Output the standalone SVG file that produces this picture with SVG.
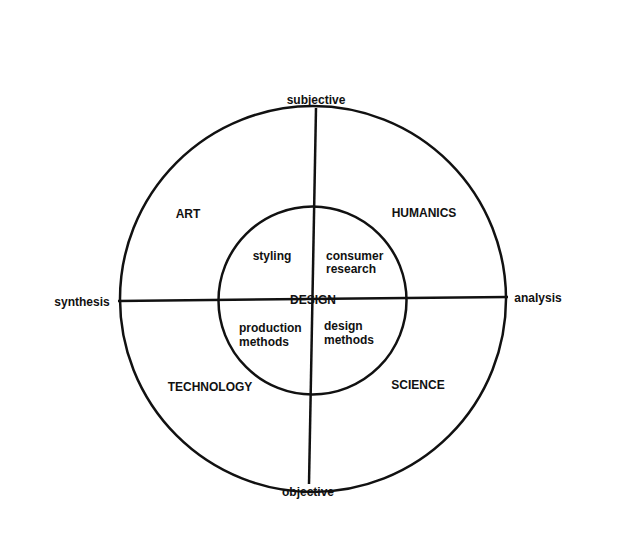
<svg xmlns="http://www.w3.org/2000/svg" width="619" height="554" viewBox="0 0 619 554">
<style>
.c{fill:none;stroke:#111;stroke-width:2.5}
.l{stroke:#111;stroke-width:2.5}
text{font-family:"Liberation Sans",Arial,sans-serif;font-weight:bold;font-size:12px;fill:#111}
</style>
<rect width="619" height="554" fill="#fff"/>
<g id="outer"><circle class="c" cx="313" cy="299" r="193"/></g>
<g id="inner"><circle class="c" cx="312.5" cy="300.5" r="94"/></g>
<g id="connectors">
<line class="l" x1="316" y1="108" x2="309" y2="484"/>
<line class="l" x1="118" y1="301" x2="508" y2="297"/>
</g>
<g id="labels">
<text x="316" y="104" text-anchor="middle">subjective</text>
<text x="308" y="496" text-anchor="middle">objective</text>
<text x="82" y="306" text-anchor="middle">synthesis</text>
<text x="538" y="302" text-anchor="middle">analysis</text>
<text x="188" y="218" text-anchor="middle">ART</text>
<text x="424" y="217" text-anchor="middle">HUMANICS</text>
<text x="210" y="391" text-anchor="middle">TECHNOLOGY</text>
<text x="418" y="389" text-anchor="middle">SCIENCE</text>
<text x="272" y="260" text-anchor="middle">styling</text>
<text x="326" y="260">consumer</text>
<text x="326" y="273">research</text>
<text x="313" y="304" text-anchor="middle">DESIGN</text>
<text x="239" y="332">production</text>
<text x="239" y="346">methods</text>
<text x="324" y="330">design</text>
<text x="324" y="344">methods</text>
</g>
</svg>
